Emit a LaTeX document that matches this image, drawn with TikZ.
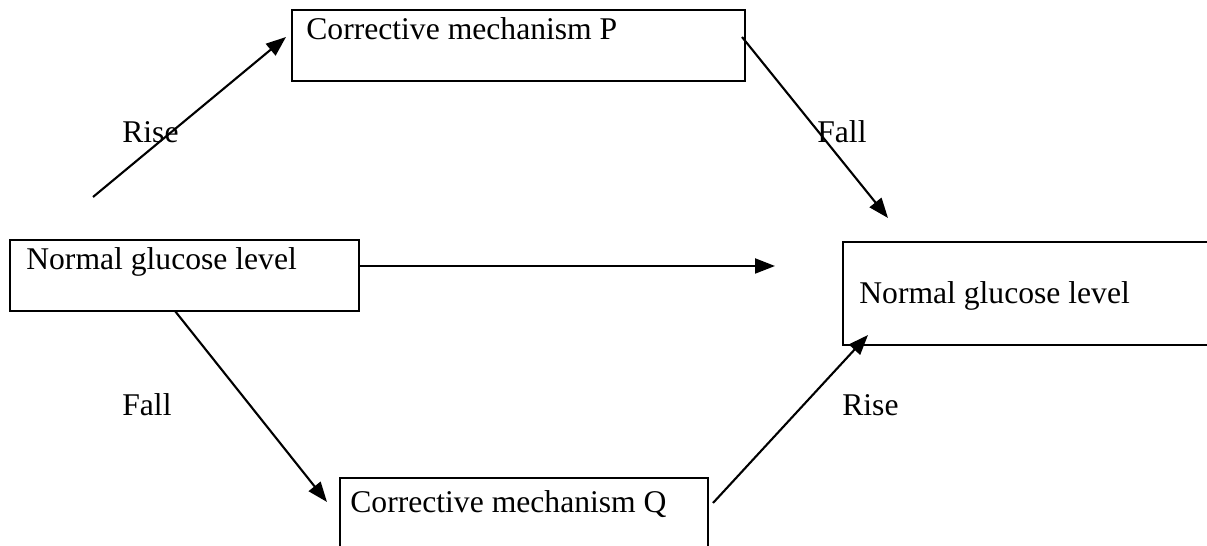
\documentclass[tikz,border=0pt]{standalone}
\usepackage{fontspec}
\setmainfont{Liberation Serif}
\usetikzlibrary{arrows.meta}

\begin{document}
\begin{tikzpicture}[x=0.02cm,y=-0.02cm,
  box/.style={draw,line width=1.2pt,rectangle,inner sep=0pt},
  txt/.style={anchor=base west,inner sep=0pt,font=\fontsize{18}{22}\selectfont},
  arr/.style={line width=1.2pt,-{Triangle[length=0.4cm,width=0.3cm]}}]
\useasboundingbox (0,0) rectangle (1207,546);
\clip (0,0) rectangle (1207,546);

% boxes
\node[box,minimum width=9.06cm,minimum height=1.42cm] (mechP) at (518.5,45.5) {};
\node[box,minimum width=6.98cm,minimum height=1.42cm] (normL) at (184.5,275.5) {};
\node[box,minimum width=7.74cm,minimum height=2.06cm] (normR) at (1036.5,293.5) {};
\node[box,minimum width=7.36cm,minimum height=1.64cm] (mechQ) at (524,519) {};

% box texts
\node[txt] (tP) at (306,40) {Corrective mechanism P};
\node[txt] (tL) at (26,270) {Normal glucose level};
\node[txt] (tR) at (859,304) {Normal glucose level};
\node[txt] (tQ) at (350,513) {Corrective mechanism Q};

% arrow labels
\node[txt] (rise1) at (122,143) {Rise};
\node[txt] (fall1) at (817,143) {Fall};
\node[txt] (fall2) at (122,416) {Fall};
\node[txt] (rise2) at (842,416) {Rise};

% loose ends of the arrows
\coordinate (a1) at (93,197);
\coordinate (a2) at (286,37);
\coordinate (b1) at (742,37);
\coordinate (b2) at (888,218);
\coordinate (c2) at (775,266);
\coordinate (d1) at (175,311);
\coordinate (d2) at (327,502);
\coordinate (e1) at (713,503);
\coordinate (e2) at (868,335);

% arrows
\draw[arr] (a1) -- (a2);
\draw[arr] (b1) -- (b2);
\draw[arr] (normL.east |- c2) -- (c2);
\draw[arr] (d1) -- (d2);
\draw[arr] (e1) -- (e2);
\end{tikzpicture}
\end{document}
